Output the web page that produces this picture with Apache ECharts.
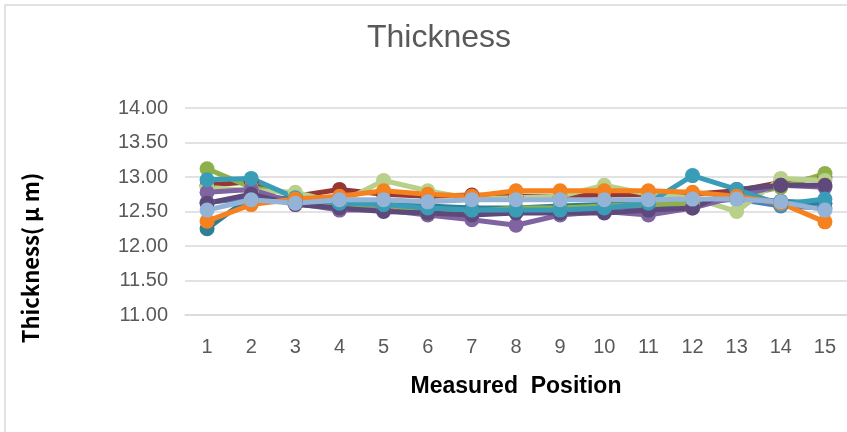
<!DOCTYPE html>
<html>
<head>
<meta charset="utf-8">
<script src="https://cdn.jsdelivr.net/npm/echarts@6/dist/echarts.min.js"></script>
<style>
html,body{margin:0;padding:0;background:#fff;}
#chart{width:847px;height:432px;}
</style>
</head>
<body>
<div id="chart"></div>
<script>
const titleText = "Thickness";
const xTitle = "Measured  Position";
const yTitle = "Thickness( \u03bc m)";
const positions = ["1","2","3","4","5","6","7","8","9","10","11","12","13","14","15"];
const yTicks = [11, 11.5, 12, 12.5, 13, 13.5, 14];

const sDarkTeal   = [12.25, 12.72, 12.68, 12.60, 12.60, 12.58, 12.55, 12.55, 12.58, 12.60, 12.62, 12.65, 12.70, 12.65, 12.62];
const sBlue       = [12.63, 12.70, 12.65, 12.58, 12.58, 12.55, 12.50, 12.52, 12.55, 12.55, 12.58, 12.62, 12.68, 12.58, 12.55];
const sDarkRed    = [12.88, 12.93, 12.72, 12.82, 12.75, 12.72, 12.74, 12.72, 12.72, 12.74, 12.75, 12.75, 12.80, 12.92, 13.00];
const sGreen      = [13.12, 12.85, 12.75, 12.58, 12.55, 12.47, 12.50, 12.55, 12.55, 12.58, 12.60, 12.62, 12.72, 12.85, 13.05];
const sLightGreen = [12.85, 12.80, 12.78, 12.62, 12.95, 12.80, 12.68, 12.70, 12.72, 12.88, 12.75, 12.70, 12.50, 12.98, 12.95];
const sPurple     = [12.78, 12.82, 12.62, 12.52, 12.52, 12.45, 12.38, 12.30, 12.45, 12.50, 12.45, 12.55, 12.72, 12.88, 12.85];
const sDarkPurple = [12.62, 12.75, 12.60, 12.55, 12.50, 12.48, 12.45, 12.48, 12.48, 12.48, 12.52, 12.55, 12.82, 12.88, 12.88];
const sAqua       = [12.96, 12.98, 12.70, 12.62, 12.60, 12.55, 12.52, 12.52, 12.52, 12.55, 12.62, 13.02, 12.82, 12.60, 12.68];
const sOrange     = [12.36, 12.60, 12.68, 12.72, 12.80, 12.75, 12.72, 12.80, 12.80, 12.80, 12.80, 12.78, 12.72, 12.62, 12.35];
const sLightBlue  = [12.52, 12.67, 12.62, 12.67, 12.67, 12.64, 12.67, 12.67, 12.67, 12.67, 12.67, 12.68, 12.68, 12.64, 12.52];

const seriesDefs = [
  {name: "S1", data: sDarkTeal, color: "#2E7F93"},
  {name: "S2", data: sBlue, color: "#4F81BD"},
  {name: "S3", data: sDarkRed, color: "#953735"},
  {name: "S4", data: sGreen, color: "#8DB04A"},
  {name: "S5", data: sLightGreen, color: "#B9D08A"},
  {name: "S6", data: sPurple, color: "#8064A2"},
  {name: "S7", data: sDarkPurple, color: "#5F497A"},
  {name: "S8", data: sAqua, color: "#3A9DB8"},
  {name: "S9", data: sOrange, color: "#F5821F"},
  {name: "S10", data: sLightBlue, color: "#95B3D7"}
];

const chart = echarts.init(document.getElementById('chart'), null, {renderer: 'canvas'});
chart.setOption({
  animation: false,
  backgroundColor: '#ffffff',
  title: {
    text: titleText,
    left: 434, top: 17, textAlign: 'center',
    textStyle: {fontFamily: 'Liberation Sans', fontSize: 32, fontWeight: 'normal', color: '#595959'}
  },
  graphic: [{
    type: 'rect', shape: {x: 5, y: 5, width: 900, height: 500},
    style: {fill: 'none', stroke: '#d9d9d9', lineWidth: 1.5}, z: -1
  }, {
    type: 'text', x: 31, y: 258, rotation: Math.PI / 2,
    style: {text: yTitle, fontFamily: 'Noto Sans CJK KR', fontSize: 22, fontWeight: 'bold',
      fill: '#000', align: 'center', verticalAlign: 'middle'}
  }],
  grid: {left: 185, right: -4, top: 108, bottom: 117},
  xAxis: {
    type: 'category', data: positions, boundaryGap: true,
    name: xTitle, nameLocation: 'middle', nameGap: 60,
    nameTextStyle: {fontFamily: 'Liberation Sans', fontSize: 23, fontWeight: 'bold', color: '#000'},
    axisLine: {lineStyle: {color: '#d9d9d9', width: 1.5}},
    axisTick: {show: false},
    axisLabel: {fontFamily: 'Liberation Sans', fontSize: 20, color: '#595959', margin: 22}
  },
  yAxis: {
    type: 'value', min: yTicks[0], max: yTicks[yTicks.length-1], interval: 0.5,
    axisLine: {show: false}, axisTick: {show: false},
    splitLine: {lineStyle: {color: '#d9d9d9', width: 1.5}},
    axisLabel: {fontFamily: 'Liberation Sans', fontSize: 20, color: '#595959', margin: 17,
      formatter: v => v.toFixed(2)}
  },
  series: seriesDefs.map(s => ({
    name: s.name, type: 'line', data: s.data,
    symbol: 'circle', symbolSize: 15,
    lineStyle: {width: 5, color: s.color},
    itemStyle: {color: s.color},
    emphasis: {disabled: true}
  }))
});
</script>
</body>
</html>
